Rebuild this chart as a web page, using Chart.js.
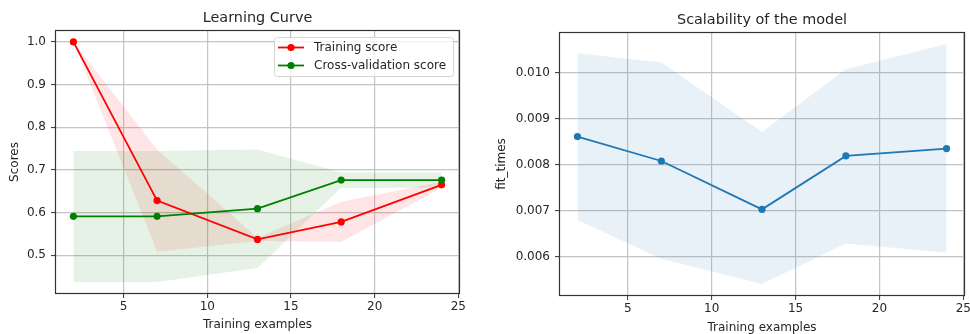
<!DOCTYPE html>
<html>
<head>
<meta charset="utf-8">
<script src="https://cdn.jsdelivr.net/npm/chart.js@4.4.0/dist/chart.umd.min.js"></script>
<style>
  html, body { margin: 0; padding: 0; background: #fff; overflow: hidden; }
  #wrap { position: relative; width: 970px; height: 334px; overflow: hidden; }
  #learn { position: absolute; left: 0; top: 0; }
  #scale { position: absolute; left: 480px; top: 0; }
</style>
</head>
<body>
<div id="wrap">
  <canvas id="learn" width="480" height="345"></canvas>
  <canvas id="scale" width="500" height="345"></canvas>
</div>
<script>
// values
const trainSizes = [2, 7, 13, 18, 24];

const trainMean  = [1.0, 0.628, 0.537, 0.578, 0.665];
const trainUpper = [1.0, 0.748, 0.541, 0.625, 0.672];
const trainLower = [1.0, 0.508, 0.533, 0.531, 0.658];

const cvMean  = [0.591, 0.591, 0.609, 0.676, 0.676];
const cvUpper = [0.744, 0.744, 0.748, 0.694, 0.694];
const cvLower = [0.437, 0.437, 0.470, 0.658, 0.658];

const fitMean  = [0.00861, 0.00808, 0.00703, 0.00819, 0.00835];
const fitUpper = [0.01042, 0.01022, 0.00871, 0.01007, 0.01062];
const fitLower = [0.00680, 0.00596, 0.00541, 0.00629, 0.00609];

const xTicks = [5, 10, 15, 20, 25];
const scoreTicks = [0.5, 0.6, 0.7, 0.8, 0.9, 1.0];
const fitTicks = [0.006, 0.007, 0.008, 0.009, 0.010];

const TEXT = '#262626';
const GRID = '#c4c4c4';
const FONT = 'DejaVu Sans';

Chart.defaults.font.family = FONT;
Chart.defaults.font.size = 12;
Chart.defaults.color = TEXT;

function pts(ys) {
  return trainSizes.map((x, i) => ({ x: x, y: ys[i] }));
}

// matplotlib-ish box around the axes
const frame = {
  id: 'frame',
  afterDatasetsDraw(chart) {
    const a = chart.chartArea, ctx = chart.ctx;
    ctx.save();
    ctx.strokeStyle = '#333';
    ctx.lineWidth = 1.2;
    const l = Math.round(a.left) + 0.5, t = Math.round(a.top) + 0.5;
    const r = Math.round(a.right) - 0.5, b = Math.round(a.bottom) - 0.5;
    ctx.strokeRect(l, t, r - l, b - t);
    ctx.restore();
  }
};

// legend inside the plot, line + marker like pyplot
const mplLegend = {
  id: 'mplLegend',
  afterDraw(chart) {
    const items = chart.data.datasets.filter(d => d.inLegend);
    if (!items.length) return;
    const ctx = chart.ctx, a = chart.chartArea;
    ctx.save();
    ctx.font = '12px "' + FONT + '"';
    const textW = Math.max(...items.map(d => ctx.measureText(d.label).width));
    const rowH = 18;
    const w = 4 + 26 + 10 + textW + 7;
    const h = 21 + rowH * (items.length - 1);
    const x0 = Math.round(a.right - 7 - w), y0 = Math.round(a.top + 7);
    ctx.beginPath();
    if (ctx.roundRect) ctx.roundRect(x0 + 0.5, y0 + 0.5, w, h, 3);
    else ctx.rect(x0 + 0.5, y0 + 0.5, w, h);
    ctx.fillStyle = 'rgba(255,255,255,0.8)';
    ctx.fill();
    ctx.strokeStyle = '#d4d4d4';
    ctx.lineWidth = 1;
    ctx.stroke();
    items.forEach((d, i) => {
      const cy = y0 + 10.5 + i * rowH;
      ctx.strokeStyle = d.borderColor;
      ctx.lineWidth = 1.8;
      ctx.beginPath();
      ctx.moveTo(x0 + 4, cy);
      ctx.lineTo(x0 + 30, cy);
      ctx.stroke();
      ctx.fillStyle = d.borderColor;
      ctx.beginPath();
      ctx.arc(x0 + 17, cy, 3.6, 0, Math.PI * 2);
      ctx.fill();
      ctx.fillStyle = TEXT;
      ctx.textBaseline = 'middle';
      ctx.textAlign = 'left';
      ctx.fillText(d.label, x0 + 40, cy);
    });
    ctx.restore();
  }
};

function lineSet(label, ys, color, order, inLegend) {
  return {
    label: label, data: pts(ys), order: order, inLegend: inLegend,
    borderColor: color, backgroundColor: color, borderWidth: 1.8,
    pointRadius: 3.6, pointBorderWidth: 0, pointBackgroundColor: color,
    pointHoverRadius: 3.6, tension: 0, fill: false
  };
}

function bandSets(upper, lower, rgba, order) {
  return [
    { label: 'upper', data: pts(upper), order: order, borderWidth: 0,
      pointRadius: 0, fill: false, backgroundColor: rgba, borderColor: 'transparent' },
    { label: 'lower', data: pts(lower), order: order, borderWidth: 0,
      pointRadius: 0, fill: '-1', backgroundColor: rgba, borderColor: 'transparent' }
  ];
}

function makeOptions(o) {
  return {
    responsive: false,
    devicePixelRatio: 1,
    animation: false,
    events: [],
    layout: { padding: { left: 0, right: o.padRight, top: 0, bottom: 0 } },
    plugins: {
      legend: { display: false },
      tooltip: { enabled: false },
      filler: { drawTime: 'beforeDatasetsDraw' },
      title: {
        display: true, text: o.title, fullSize: false,
        font: { size: 14.4, weight: 'normal' }, color: TEXT,
        padding: { top: o.titleTop, bottom: o.titleBottom }
      }
    },
    scales: {
      x: {
        type: 'linear', min: 0.9, max: 25.1,
        afterBuildTicks: s => { s.ticks = xTicks.map(v => ({ value: v })); },
        afterFit: s => { s.height = o.xHeight; },
        ticks: { autoSkip: false, maxRotation: 0, padding: 2, color: TEXT },
        grid: { color: GRID, lineWidth: 1.2, tickLength: 4, tickColor: '#333', tickWidth: 1 },
        border: { display: false },
        title: { display: true, text: 'Training examples', color: TEXT,
                 font: { size: 12 }, padding: { top: 0, bottom: o.xTitleBottom } }
      },
      y: {
        type: 'linear', min: o.yMin, max: o.yMax,
        afterBuildTicks: s => { s.ticks = o.yTicks.map(v => ({ value: v })); },
        afterFit: s => { s.width = o.yWidth; },
        ticks: { autoSkip: false, padding: 5, color: TEXT,
                 callback: v => v.toFixed(o.digits) },
        grid: { color: GRID, lineWidth: 1.2, tickLength: 4, tickColor: '#333', tickWidth: 1 },
        border: { display: false },
        title: { display: true, text: o.yTitle, color: TEXT,
                 font: { size: 12 }, padding: { top: o.yTitlePad, bottom: 0 } }
      }
    }
  };
}

new Chart(document.getElementById('learn'), {
  type: 'line',
  data: {
    datasets: [
      lineSet('Training score', trainMean, '#ff0000', 1, true),
      lineSet('Cross-validation score', cvMean, '#008000', 0, true),
      ...bandSets(trainUpper, trainLower, 'rgba(255,0,0,0.1)', 4),
      ...bandSets(cvUpper, cvLower, 'rgba(0,128,0,0.1)', 3)
    ]
  },
  options: makeOptions({
    title: 'Learning Curve', titleTop: 9.7, titleBottom: 3,
    padRight: 20, xHeight: 51, xTitleBottom: 12.8,
    yWidth: 55, yTitle: 'Scores', yTitlePad: 7.8,
    yMin: 0.409, yMax: 1.028, yTicks: scoreTicks, digits: 1
  }),
  plugins: [frame, mplLegend]
});

new Chart(document.getElementById('scale'), {
  type: 'line',
  data: {
    datasets: [
      lineSet('fit_times', fitMean, '#1f77b4', 0, false),
      ...bandSets(fitUpper, fitLower, 'rgba(31,119,180,0.1)', 2)
    ]
  },
  options: makeOptions({
    title: 'Scalability of the model', titleTop: 11.4, titleBottom: 3.3,
    padRight: 15, xHeight: 49, xTitleBottom: 9.8,
    yWidth: 79, yTitle: 'fit_times', yTitlePad: 14.8,
    yMin: 0.00515, yMax: 0.01088, yTicks: fitTicks, digits: 3
  }),
  plugins: [frame, mplLegend]
});
</script>
</body>
</html>
